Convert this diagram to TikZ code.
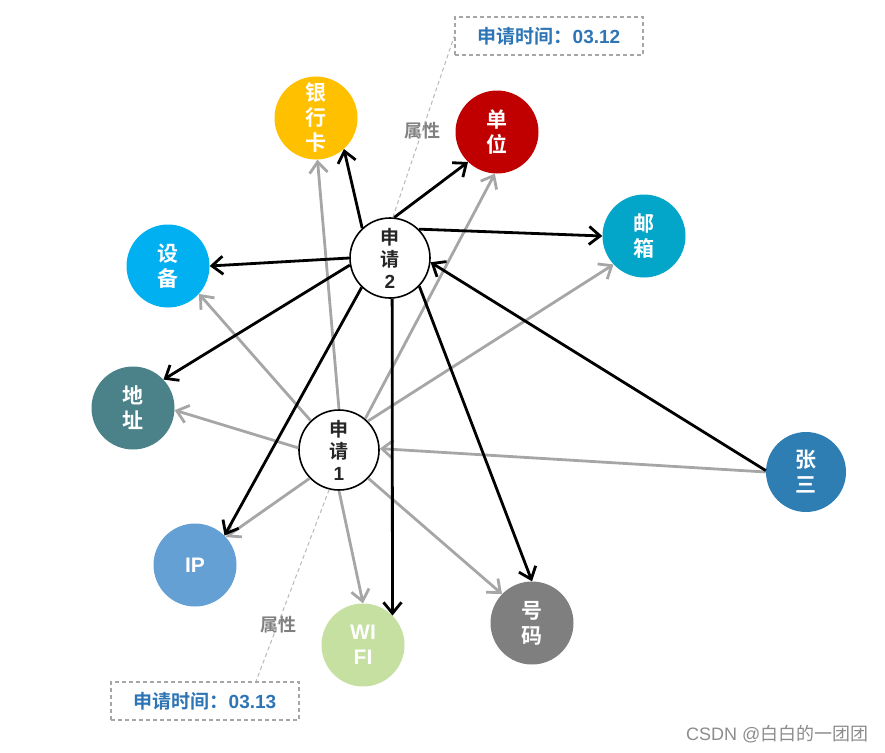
\documentclass[tikz,border=0pt]{standalone}
\usepackage{fontspec}
\newfontfamily\cjk{Noto Sans CJK SC}[BoldFont={Noto Sans CJK SC Bold}]
\newfontfamily\lib{Liberation Sans}
\usetikzlibrary{arrows.meta}
\definecolor{cYH}{HTML}{FFC000}
\definecolor{cDW}{HTML}{C00000}
\definecolor{cYX}{HTML}{03A6C8}
\definecolor{cSB}{HTML}{00B0F0}
\definecolor{cDZ}{HTML}{4B8289}
\definecolor{cZS}{HTML}{2E7EB4}
\definecolor{cIP}{HTML}{64A0D3}
\definecolor{cWF}{HTML}{C5E0A0}
\definecolor{cHM}{HTML}{7F7F7F}
\definecolor{cGR}{HTML}{A6A6A6}
\definecolor{cTX}{HTML}{2E75B6}
\definecolor{cSX}{HTML}{808080}
\newcommand\lt[1]{{\lib\bfseries #1}}
\tikzset{
  ent/.style={circle, minimum size=83pt, inner sep=0pt, text=white, align=center,
    font=\cjk\bfseries\fontsize{21}{25}\selectfont},
  app/.style={circle, draw=black, line width=1.6pt, fill=white, minimum size=80pt, inner sep=0pt, align=center,
    text=black!85, font=\cjk\bfseries\fontsize{19}{22}\selectfont},
  blk/.style={draw=black, line width=2.8pt, -{Straight Barb[length=11pt,width=18pt,line width=2.8pt]}},
  gry/.style={draw=cGR, line width=2.8pt, -{Straight Barb[length=11pt,width=18pt,line width=2.8pt]}},
  tbox/.style={draw=cGR, line width=1.3pt, dash pattern=on 4pt off 3pt, minimum width=188pt, minimum height=38pt,
    text=cTX, font=\cjk\bfseries\fontsize{19}{20}\selectfont},
  lead/.style={draw=cGR!80, line width=1pt, dash pattern=on 4pt off 3pt},
  attr/.style={text=cSX, font=\cjk\bfseries\fontsize{18}{18}\selectfont},
}
\begin{document}
\begin{tikzpicture}[x=1pt,y=-1pt]
\useasboundingbox (0,0) rectangle (885,752);
% entities
\node[ent, fill=cYH] (yh) at (316,118) {银\\行\\卡};
\node[ent, fill=cDW] (dw) at (497,132) {单\\位};
\node[ent, fill=cYX] (yx) at (644,236) {邮\\箱};
\node[ent, fill=cSB] (sb) at (168,266) {设\\备};
\node[ent, fill=cDZ] (dz) at (133,408) {地\\址};
\node[ent, fill=cZS, minimum size=80pt] (zs) at (806,472) {张\\三};
\node[ent, fill=cIP] (ip) at (195,565) {\lt{IP}};
\node[ent, fill=cWF] (wf) at (363,645) {\lt{WI}\\\lt{FI}};
\node[ent, fill=cHM] (hm) at (532,623) {号\\码};
% applications
\node[app] (s2) at (390,258) {申\\请\\\lt{2}};
\node[app] (s1) at (339,450) {申\\请\\\lt{1}};
% time boxes
\node[tbox] (tb) at (549,36) {申请时间：\lt{03.12}};
\node[tbox] (bb) at (205,701) {申请时间：\lt{03.13}};
\node[attr] (a2) at (422,131) {属性};
\node[attr] (a1) at (278,625) {属性};
\draw[lead] (s2.86) -- (tb.west);
\draw[lead] (s1.-104) -- ([xshift=51pt]bb.north);
% gray edges from 申请1
\draw[gry] (s1.90) -- (yh.-88);
\draw[gry] (s1.50) -- (dw.-93);
\draw[gry] (s1.45) -- (yx.-137);
\draw[gry] (s1.134) -- (sb.-42);
\draw[gry] (s1.177) -- (dz.-3);
\draw[gry] (s1.-136) -- (ip.42);
\draw[gry] (s1.-90) -- (wf.90);
\draw[gry] (s1.-44) -- (hm.136);
\draw[gry] (zs.180) -- (s1.2);
% black edges from 申请2
\draw[blk] (s2.133) -- (yh.-48);
\draw[blk] (s2.84) -- (dw.-134);
\draw[blk] (s2.45) -- (yx.180);
\draw[blk] (s2.180) -- (sb.0);
\draw[blk] (s2.190) -- (dz.43);
\draw[blk] (s2.-134) -- (ip.45);
\draw[blk] (s2.-87) -- (wf.45);
\draw[blk] (s2.-44) -- (hm.90);
\draw[blk] (zs.178) -- (s2.-6);
% watermark
\node[text=black!45, font=\lib\fontsize{18}{20}\selectfont, anchor=east] (wm) at (872,734) {CSDN @{\cjk 白白的一团团}};
\end{tikzpicture}
\end{document}
